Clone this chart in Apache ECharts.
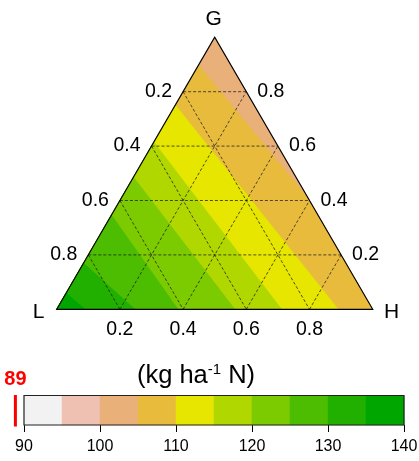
<!DOCTYPE html>
<html>
<head>
<meta charset="utf-8">
<script src="https://cdn.jsdelivr.net/npm/echarts@6/dist/echarts.min.js"></script>
<style>
  html, body { margin: 0; padding: 0; background: #ffffff; }
  #chart { width: 419px; height: 461px; }
</style>
</head>
<body>
<div id="chart"></div>
<script>
// Ternary response surface (L, G, H shares) shown as filled 5-unit bands.
const FONT = '"Liberation Sans", Arial, sans-serif';

// colour scale
const levels = [90, 95, 100, 105, 110, 115, 120, 125, 130, 135, 140];
const bandColors = ['#F2F2F2', '#EEC1B2', '#EAB07A', '#E8BB3C', '#E6E600',
                    '#B0D800', '#7CCA00', '#4CBD00', '#22B000', '#00A600'];
const scaleTicks = [90, 100, 110, 120, 130, 140];
const markerValue = 89;
const scaleTitle = ['(kg ha', '-1', ' N)'];

// ternary frame
const cornerNames = ['L', 'G', 'H'];
const gridTicks = [0.2, 0.4, 0.6, 0.8];

// band at the G corner, then each contour line as two points [L, G, H] on the frame
const apexLevel = 100;
const contourLevels = [105, 110, 115, 120, 125, 130, 135];
const contourStart = [
  [0.102, 0.898, 0], [0.249, 0.751, 0], [0.385, 0.615, 0], [0.514, 0.486, 0],
  [0.653, 0.347, 0], [0.830, 0.170, 0], [0.940, 0.060, 0]
];
const contourEnd = [
  [0, 0.408, 0.592], [0.109, 0, 0.891], [0.288, 0, 0.712], [0.436, 0, 0.564],
  [0.616, 0, 0.384], [0.752, 0, 0.248], [0.910, 0, 0.090]
];

const SQ = Math.sqrt(3) / 2;
// [L, G, H] -> plane coordinates (L at origin, H at (1,0), G on top)
function toXY(t) { return [t[2] + t[1] / 2, t[1] * SQ]; }
function colorOf(level) { return bandColors[levels.indexOf(level)]; }

// keep the part of polygon `poly` lying on the same side of line a-b as point `ref`
function clipHalf(poly, a, b, ref) {
  const side = p => (b[0] - a[0]) * (p[1] - a[1]) - (b[1] - a[1]) * (p[0] - a[0]);
  const s0 = Math.sign(side(ref));
  const out = [];
  for (let i = 0; i < poly.length; i++) {
    const p = poly[i], q = poly[(i + 1) % poly.length];
    const sp = side(p) * s0, sq = side(q) * s0;
    if (sp >= 0) out.push(p);
    if ((sp > 0 && sq < 0) || (sp < 0 && sq > 0)) {
      const r = sp / (sp - sq);
      out.push([p[0] + r * (q[0] - p[0]), p[1] + r * (q[1] - p[1])]);
    }
  }
  return out;
}

const frame = [toXY([1, 0, 0]), toXY([0, 0, 1]), toXY([0, 1, 0])];
const bands = [{ pts: frame, color: colorOf(apexLevel) }];
contourLevels.forEach((lv, i) => {
  bands.push({
    pts: clipHalf(frame, toXY(contourStart[i]), toXY(contourEnd[i]), frame[0]),
    color: colorOf(lv)
  });
});

// dashed guide lines at constant L, G and H
const guides = [];
gridTicks.forEach(v => {
  guides.push([toXY([1 - v, v, 0]), toXY([0, v, 1 - v])]);
  guides.push([toXY([v, 1 - v, 0]), toXY([v, 0, 1 - v])]);
  guides.push([toXY([1 - v, 0, v]), toXY([0, 1 - v, v])]);
});

// text around the frame
const frameTexts = [];
gridTicks.forEach(v => {
  frameTexts.push({ p: toXY([v, 1 - v, 0]), text: String(v), dx: -11, dy: 0, align: 'right', size: 19.5 });
  frameTexts.push({ p: toXY([0, v, 1 - v]), text: String(v), dx: 11, dy: 0, align: 'left', size: 19.5 });
  frameTexts.push({ p: toXY([1 - v, 0, v]), text: String(v), dx: 0, dy: 20, align: 'center', size: 19.5 });
});
frameTexts.push({ p: toXY([1, 0, 0]), text: cornerNames[0], dx: -18, dy: 3, align: 'center', size: 21 });
frameTexts.push({ p: toXY([0, 1, 0]), text: cornerNames[1], dx: -1, dy: -18, align: 'center', size: 21 });
frameTexts.push({ p: toXY([0, 0, 1]), text: cornerNames[2], dx: 19, dy: 3, align: 'center', size: 21 });

const scaleCells = [];
for (let i = 0; i < bandColors.length; i++) scaleCells.push([levels[i], levels[i + 1], i]);

const chart = echarts.init(document.getElementById('chart'), null, { renderer: 'canvas' });
const idx = n => Array.from({ length: n }, (_, i) => [0, 0, i]);

chart.setOption({
  animation: false,
  backgroundColor: '#ffffff',
  grid: [
    { left: 56.7, top: 37.3, width: 316, height: 272 },
    { left: 24, top: 395.5, width: 380, height: 29.5 }
  ],
  xAxis: [
    { gridIndex: 0, type: 'value', min: 0, max: 1, show: false },
    {
      gridIndex: 1, type: 'value', min: scaleTicks[0], max: scaleTicks[scaleTicks.length - 1],
      interval: scaleTicks[1] - scaleTicks[0],
      axisLine: { show: false },
      axisTick: { show: true, length: 7, lineStyle: { color: '#000', width: 1 } },
      axisLabel: { show: false },
      splitLine: { show: false }
    }
  ],
  yAxis: [
    { gridIndex: 0, type: 'value', min: 0, max: SQ, show: false },
    { gridIndex: 1, type: 'value', min: 0, max: 1, show: false }
  ],
  series: [
    {
      type: 'custom', xAxisIndex: 0, yAxisIndex: 0, silent: true,
      data: idx(bands.length),
      renderItem: (params, api) => {
        const b = bands[params.dataIndex];
        return { type: 'polygon', shape: { points: b.pts.map(p => api.coord(p)) },
          style: { fill: b.color, stroke: b.color, lineWidth: 0.5 } };
      }
    },
    {
      type: 'custom', xAxisIndex: 0, yAxisIndex: 0, silent: true,
      data: idx(guides.length),
      renderItem: (params, api) => {
        const g = guides[params.dataIndex];
        const a = api.coord(g[0]), b = api.coord(g[1]);
        return { type: 'line', shape: { x1: a[0], y1: a[1], x2: b[0], y2: b[1] },
          style: { stroke: 'rgba(30,30,30,0.85)', lineWidth: 0.9, lineDash: [3, 2] } };
      }
    },
    {
      type: 'custom', xAxisIndex: 0, yAxisIndex: 0, silent: true,
      data: idx(1),
      renderItem: (params, api) => ({
        type: 'polygon', shape: { points: frame.map(p => api.coord(p)) },
        style: { fill: 'none', stroke: '#000', lineWidth: 1.2 }
      })
    },
    {
      type: 'custom', xAxisIndex: 0, yAxisIndex: 0, silent: true,
      data: idx(frameTexts.length),
      renderItem: (params, api) => {
        const t = frameTexts[params.dataIndex];
        const c = api.coord(t.p);
        return { type: 'text', x: c[0] + t.dx, y: c[1] + t.dy,
          style: { text: t.text, fill: '#000', fontFamily: FONT, fontSize: t.size,
            align: t.align, verticalAlign: 'middle' } };
      }
    },
    {
      type: 'custom', xAxisIndex: 1, yAxisIndex: 1, silent: true,
      data: scaleCells,
      renderItem: (params, api) => {
        const a = api.coord([api.value(0), 0]), b = api.coord([api.value(1), 1]);
        const col = bandColors[api.value(2)];
        return { type: 'rect', shape: { x: a[0], y: b[1], width: b[0] - a[0], height: a[1] - b[1] },
          style: { fill: col, stroke: col, lineWidth: 0.5 } };
      }
    },
    {
      type: 'custom', xAxisIndex: 1, yAxisIndex: 1, silent: true,
      data: [[levels[0], levels[levels.length - 1]]],
      renderItem: (params, api) => {
        const a = api.coord([api.value(0), 0]), b = api.coord([api.value(1), 1]);
        return { type: 'rect', shape: { x: a[0], y: b[1], width: b[0] - a[0], height: a[1] - b[1] },
          style: { fill: 'none', stroke: '#222', lineWidth: 1.2 } };
      }
    },
    {
      // scale labels under the ticks
      type: 'custom', xAxisIndex: 1, yAxisIndex: 1, silent: true,
      data: scaleTicks.map(v => [v]),
      renderItem: (params, api) => {
        const c = api.coord([api.value(0), 0]);
        return { type: 'text', x: c[0], y: c[1] + 22,
          style: { text: String(api.value(0)), fill: '#000', fontFamily: FONT, fontSize: 16,
            align: 'center', verticalAlign: 'middle' } };
      }
    },
    {
      type: 'custom', xAxisIndex: 1, yAxisIndex: 1, silent: true,
      data: [[markerValue]],
      renderItem: (params, api) => {
        const a = api.coord([api.value(0), 0]), b = api.coord([api.value(0), 1]);
        return { type: 'group', children: [
          { type: 'line', shape: { x1: a[0] - 1, y1: a[1] + 1.5, x2: b[0] - 1, y2: b[1] - 0.5 },
            style: { stroke: '#FF0000', lineWidth: 3 } },
          { type: 'text', x: b[0] - 1, y: b[1] - 16,
            style: { text: String(api.value(0)), fill: '#FF0000', fontFamily: FONT,
              fontSize: 20, fontWeight: 'bold', align: 'center', verticalAlign: 'middle' } }
        ] };
      }
    }
  ],
  graphic: [{
    type: 'text', x: 196, y: 376,
    style: {
      text: '{a|' + scaleTitle[0] + '}{s|' + scaleTitle[1] + '}{a|' + scaleTitle[2] + '}',
      align: 'center', verticalAlign: 'middle',
      rich: {
        a: { fontFamily: FONT, fontSize: 25.5, color: '#000', lineHeight: 28 },
        s: { fontFamily: FONT, fontSize: 15, color: '#000', lineHeight: 28, verticalAlign: 'top' }
      }
    }
  }]
});
</script>
</body>
</html>
